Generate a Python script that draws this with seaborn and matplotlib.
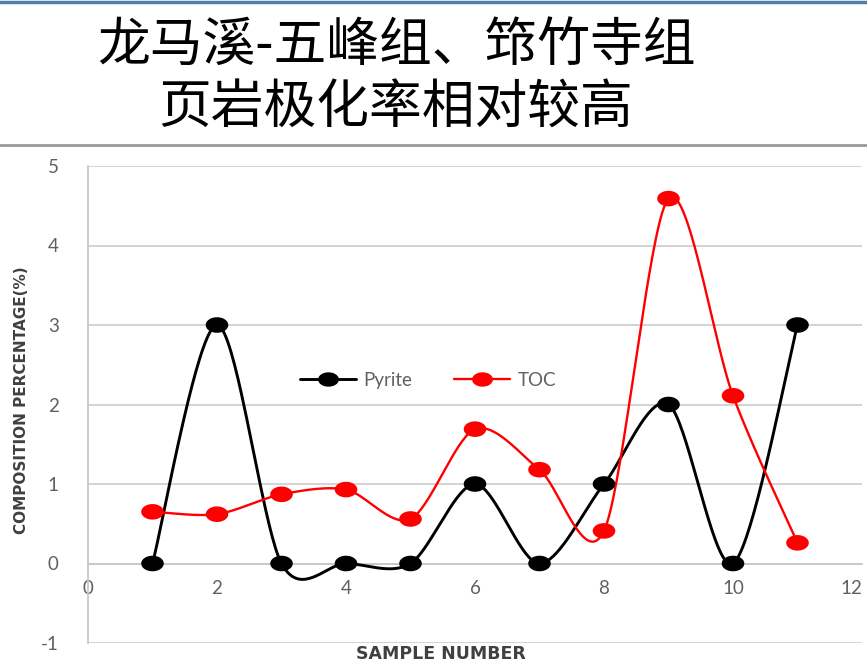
import numpy as np
import pandas as pd
import matplotlib
matplotlib.use("Agg")
import matplotlib.pyplot as plt
from matplotlib.lines import Line2D
from matplotlib.path import Path
import seaborn as sns

# ---- data ----
sample = [1, 2, 3, 4, 5, 6, 7, 8, 9, 10, 11]
pyrite = [0, 3, 0, 0, 0, 1, 0, 1, 2, 0, 3]
toc = [0.65, 0.62, 0.87, 0.93, 0.56, 1.69, 1.18, 0.41, 4.59, 2.11, 0.26]
series_names = ["Pyrite", "TOC"]
title_lines = ["龙马溪-五峰组、筇竹寺组", "页岩极化率相对较高"]
x_ticks = [0, 2, 4, 6, 8, 10, 12]
y_ticks = [-1, 0, 1, 2, 3, 4, 5]

sns.set_theme(style="white")
plt.rcParams["font.family"] = ["Lato", "DejaVu Sans"]
plt.rcParams["axes.unicode_minus"] = False


def smooth(xs, ys, tension=0.15, n=40):
    """Excel-like smoothed line: cubic Bezier segments through the points."""
    P = np.column_stack([xs, ys]).astype(float)
    m = len(P)
    out = []
    for i in range(m - 1):
        p0 = P[i]
        p1 = P[i + 1]
        pm = P[i - 1] if i > 0 else P[i]
        pp = P[i + 2] if i + 2 < m else P[i + 1]
        c1 = p0 + (p1 - pm) * tension
        c2 = p1 - (pp - p0) * tension
        t = np.linspace(0, 1, n)[:, None]
        seg = ((1 - t) ** 3) * p0 + 3 * ((1 - t) ** 2) * t * c1 + 3 * (1 - t) * t ** 2 * c2 + t ** 3 * p1
        out.append(seg if i == 0 else seg[1:])
    return np.vstack(out)


fig = plt.figure(figsize=(8.67, 6.65), dpi=100)
W, H = 867, 665
ax = fig.add_axes([88 / W, 22 / H, 774 / W, 477 / H])
ax.set_facecolor("none")

# ellipse marker
th = np.linspace(0, 2 * np.pi, 40)
ell = Path(np.column_stack([1.45 * np.cos(th), np.sin(th)]))

colors = {"Pyrite": "#000000", "TOC": "#ff0000"}
lws = {"Pyrite": 2.1, "TOC": 1.7}
for name, vals in zip(series_names, [pyrite, toc]):
    c = smooth(sample, vals)
    df = pd.DataFrame({"x": c[:, 0], "y": c[:, 1], "i": np.arange(len(c))})
    sns.lineplot(data=df, x="x", y="y", sort=False, estimator=None, ax=ax,
                 color=colors[name], lw=lws[name], zorder=3)
    pts = pd.DataFrame({"x": sample, "y": vals})
    sns.scatterplot(data=pts, x="x", y="y", ax=ax, marker=ell, s=265,
                    color=colors[name], edgecolor="none", zorder=4)

ax.set_xlim(0, 12)
ax.set_ylim(-1, 5)
ax.set_xticks(x_ticks)
ax.set_yticks(y_ticks)
ax.grid(axis="y", color="#d0d0d0", lw=1.3)
ax.grid(axis="x", visible=False)
for s in ["top", "right"]:
    ax.spines[s].set_visible(False)
ax.spines["left"].set_position(("data", 0))
ax.spines["left"].set_color("#c8c8c8")
ax.spines["left"].set_linewidth(1.3)
ax.spines["bottom"].set_position(("data", 0))
ax.spines["bottom"].set_color("#c8c8c8")
ax.spines["bottom"].set_linewidth(1.3)
ax.tick_params(axis="x", direction="inout", length=8, width=1, color="#c8c8c8",
               labelsize=13.5, labelcolor="#606060", pad=8)
ax.tick_params(axis="y", direction="out", length=6, width=1, color="#c8c8c8",
               labelsize=13.5, labelcolor="#606060", pad=15)
for lab in ax.get_xticklabels():
    if lab.get_text() == "12":
        lab.set_horizontalalignment("right")
        lab.set_x(12)
ax.set_xlabel("")
ax.set_ylabel("")

fig.text(22 / W, 1 - 400 / H, "COMPOSITION PERCENTAGE(%)", rotation=90,
         ha="center", va="center", fontsize=11, fontweight="bold",
         color="#404040", family=["Liberation Sans Narrow", "DejaVu Sans"])
fig.text(441 / W, 1 - 663 / H, "SAMPLE NUMBER", ha="center", va="bottom",
         fontsize=12.5, fontweight="bold", color="#404040",
         family=["Liberation Sans Narrow", "DejaVu Sans"])

# legend
handles = [Line2D([], [], color=colors[n], lw=lws[n], marker=ell, markersize=15,
                  markeredgewidth=0) for n in series_names]
leg = ax.legend(handles, series_names, loc="center", bbox_to_anchor=(0.439, 0.551),
                ncol=2, frameon=False, handlelength=3.0, columnspacing=2.2,
                handletextpad=0.4, fontsize=13.5)
for t in leg.get_texts():
    t.set_color("#606060")

# slide decorations
fig.add_artist(Line2D([0, 1], [1 - 1.5 / H, 1 - 1.5 / H], color="#4f7fa8", lw=2.5))
fig.add_artist(Line2D([0, 1], [1 - 145 / H, 1 - 145 / H], color="#9a9a9a", lw=2))
for txt, yc in zip(title_lines, [45, 108]):
    fig.text(396 / W, 1 - yc / H, txt, ha="center", va="center", fontsize=38,
             color="#000000", family=["Noto Sans CJK SC", "DejaVu Sans"])

fig.savefig("out.png", dpi=100)
